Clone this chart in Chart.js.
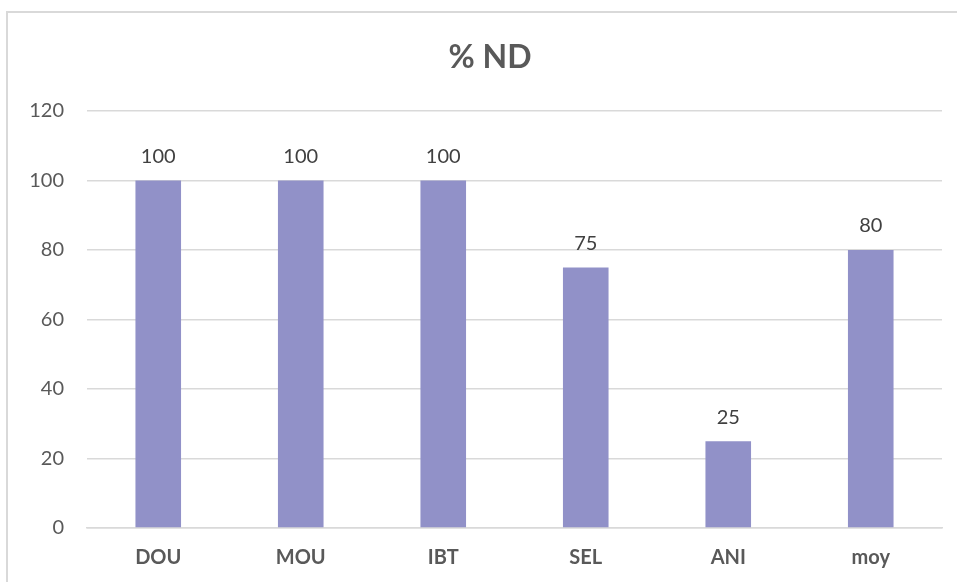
<!DOCTYPE html>
<html>
<head>
<meta charset="utf-8">
<script src="https://cdn.jsdelivr.net/npm/chart.js@4"></script>
<style>
    html, body { margin: 0; padding: 0; background: #fff; overflow: hidden; }
    #frame {
        position: absolute; left: 6px; top: 11px; width: 1000px; height: 600px;
        border-left: 2px solid #d9d9d9; border-top: 2px solid #d9d9d9;
    }
    #wrap { position: absolute; left: 0; top: 0; width: 957px; height: 582px; }
</style>
</head>
<body>
<div id="frame"></div>
<div id="wrap"><canvas id="ndChart"></canvas></div>
<script>
const categories = ["DOU", "MOU", "IBT", "SEL", "ANI", "moy"];
const ndValues = [100, 100, 100, 75, 25, 80];
const yTicks = [0, 20, 40, 60, 80, 100, 120];
const chartTitle = "% ND";

const FONT = "Lato, 'Open Sans', sans-serif";

// Title, centred on the outer frame rather than the canvas
const frameTitle = {
    id: "frameTitle",
    afterDraw(chart) {
        const ctx = chart.ctx;
        ctx.save();
        ctx.font = "bold 32px " + FONT;
        ctx.fillStyle = "#595959";
        ctx.textAlign = "center";
        ctx.textBaseline = "middle";
        ctx.fillText(chartTitle, 490, 58);
        ctx.restore();
    }
};

// Value labels above each bar
const barLabels = {
    id: "barLabels",
    afterDatasetsDraw(chart) {
        const ctx = chart.ctx;
        const meta = chart.getDatasetMeta(0);
        ctx.save();
        ctx.font = "20px " + FONT;
        ctx.fillStyle = "#404040";
        ctx.textAlign = "center";
        ctx.textBaseline = "bottom";
        meta.data.forEach((bar, i) => {
            ctx.fillText(String(ndValues[i]), bar.x, bar.y - 14);
        });
        ctx.restore();
    }
};

document.addEventListener("DOMContentLoaded", () => {
    let ctx = document.getElementById("ndChart").getContext("2d");

    new Chart(ctx, {
        type: "bar",
        data: {
            labels: categories,
            datasets: [{
                label: chartTitle,
                data: ndValues,
                backgroundColor: "#9191c8",
                borderWidth: 0,
                categoryPercentage: 1,
                barPercentage: 0.32
            }]
        },
        options: {
            responsive: true,
            maintainAspectRatio: false,
            animation: false,
            layout: { padding: { left: 0, right: 15, top: 111, bottom: 0 } },
            plugins: {
                legend: { display: false },
                tooltip: { enabled: false },
                title: { display: false }
            },
            scales: {
                y: {
                    min: 0,
                    max: 120,
                    afterFit: (scale) => { scale.width = 87; },
                    afterBuildTicks: (scale) => { scale.ticks = yTicks.map(v => ({ value: v })); },
                    border: { display: false },
                    grid: { color: "#d9d9d9", lineWidth: 1.5, drawTicks: false },
                    ticks: {
                        padding: 23,
                        color: "#595959",
                        font: { family: FONT, size: 20 }
                    }
                },
                x: {
                    afterFit: (scale) => { scale.height = 54; },
                    border: { color: "#d9d9d9", width: 1.5 },
                    grid: { display: false, drawTicks: false },
                    ticks: {
                        padding: 18,
                        color: "#595959",
                        font: { family: FONT, size: 20, weight: "bold" }
                    }
                }
            }
        },
        plugins: [barLabels, frameTitle]
    });
});
</script>
</body>
</html>
